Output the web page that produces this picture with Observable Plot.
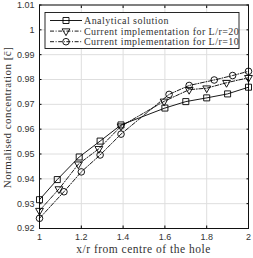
<!DOCTYPE html>
<html><head><meta charset="utf-8">
<script src="https://cdn.jsdelivr.net/npm/d3@7"></script>
<script src="https://cdn.jsdelivr.net/npm/@observablehq/plot@0.6"></script>
<style>body{margin:0;background:#fff}</style></head>
<body><div id="chart"></div>
<script>
const seriesNames = ["Analytical solution", "Current implementation for L/r=20", "Current implementation for L/r=10"];
const analyticalX = [1.0, 1.085, 1.19, 1.29, 1.39, 1.6, 1.7, 1.8, 1.9, 2.0];
const analyticalY = [0.9316, 0.9397, 0.9488, 0.9552, 0.9617, 0.9685, 0.9711, 0.9726, 0.9742, 0.9769];
const lr20X = [1.0, 1.093, 1.186, 1.284, 1.39, 1.596, 1.716, 1.80, 1.895, 2.0];
const lr20Y = [0.9272, 0.9359, 0.9459, 0.9521, 0.9612, 0.9712, 0.9759, 0.9765, 0.9787, 0.9807];
const lr10X = [1.0, 1.117, 1.2, 1.29, 1.39, 1.62, 1.716, 1.836, 1.924, 2.0];
const lr10Y = [0.9241, 0.9348, 0.9428, 0.9496, 0.9580, 0.9740, 0.9776, 0.9798, 0.9816, 0.9833];
const xTicks = [1, 1.2, 1.4, 1.6, 1.8, 2];
const xTickLabels = ["1", "1.2", "1.4", "1.6", "1.8", "2"];
const yTicks = [0.92, 0.93, 0.94, 0.95, 0.96, 0.97, 0.98, 0.99, 1, 1.01];
const yTickLabels = ["0.92", "0.93", "0.94", "0.95", "0.96", "0.97", "0.98", "0.99", "1", "1.01"];
const xTitle = "x/r from centre of the hole";
const yTitle = "Normalised concentration [c\u0304]";

const toRows = (xs, ys) => xs.map((x, i) => ({x, y: ys[i]}));
const A = toRows(analyticalX, analyticalY);
const B = toRows(lr20X, lr20Y);
const C = toRows(lr10X, lr10Y);

const serif = "Liberation Serif";
const sans = "Liberation Sans";
const dashB = "4,1.6,1,1.6";
const dashC = "4,1.6,1,1.6";
const gridColor = "#dedede";
const textColor = "#333";

const plot = Plot.plot({
  width: 253, height: 258,
  marginLeft: 39, marginRight: 5, marginTop: 4.5, marginBottom: 30,
  style: {background: "#fff", overflow: "visible"},
  x: {domain: [1, 2]},
  y: {domain: [0.92, 1.01]},
  marks: [
    Plot.gridX(xTicks, {stroke: gridColor, strokeOpacity: 1}),
    Plot.gridY(yTicks, {stroke: gridColor, strokeOpacity: 1}),
    Plot.axisX(xTicks, {anchor: "bottom", tickSize: 0, tickPadding: 5, fontSize: 9, fontFamily: sans, fill: textColor, tickFormat: d => xTickLabels[xTicks.indexOf(d)], label: null}),
    Plot.axisY(yTicks, {anchor: "left", tickSize: 0, tickPadding: 5, fontSize: 9, fontFamily: sans, fill: textColor, tickFormat: d => yTickLabels[yTicks.indexOf(d)], label: null}),
    Plot.axisX(xTicks, {anchor: "bottom", tickSize: -2.5, tickFormat: () => "", label: null}),
    Plot.axisX(xTicks, {anchor: "top", tickSize: -2.5, tickFormat: () => "", label: null}),
    Plot.axisY(yTicks, {anchor: "left", tickSize: -2.5, tickFormat: () => "", label: null}),
    Plot.axisY(yTicks, {anchor: "right", tickSize: -2.5, tickFormat: () => "", label: null}),
    Plot.frame({stroke: "#111"}),
    Plot.line(A, {x: "x", y: "y", stroke: "#000", strokeWidth: 0.9}),
    Plot.line(B, {x: "x", y: "y", stroke: "#000", strokeWidth: 0.9, strokeDasharray: dashB}),
    Plot.line(C, {x: "x", y: "y", stroke: "#000", strokeWidth: 0.9, strokeDasharray: dashC}),
    Plot.dot(A, {x: "x", y: "y", symbol: "square", r: 3.4, stroke: "#000", fill: "none", strokeWidth: 0.9}),
    Plot.dot(B, {x: "x", y: "y", symbol: "triangle", rotate: 180, r: 2.9, stroke: "#000", fill: "none", strokeWidth: 0.9}),
    Plot.dot(C, {x: "x", y: "y", symbol: "circle", r: 3.3, stroke: "#000", fill: "none", strokeWidth: 0.9})
  ]
});
document.getElementById("chart").appendChild(plot);

const svg = d3.select(plot);
const titleStyle = sel => sel.attr("font-family", serif).attr("font-size", 11.5)
  .attr("letter-spacing", "0.5px").attr("fill", textColor).attr("text-anchor", "middle");
// axis titles
svg.append("text").call(titleStyle)
  .attr("x", 143.5).attr("y", 249).attr("dy", "0.35em").text(xTitle);
svg.append("text").call(titleStyle).attr("font-size", 11).attr("letter-spacing", "0.45px")
  .attr("transform", "translate(7.5,117.5) rotate(-90)").attr("dy", "0.35em").text(yTitle);

// legend
const lg = svg.append("g");
const lx = 45, ly = 12.5, lw = 194, lh = 36;
lg.append("rect").attr("x", lx).attr("y", ly).attr("width", lw).attr("height", lh)
  .attr("fill", "#fff").attr("stroke", "#111").attr("stroke-width", 0.9);
const dashes = [null, dashB, dashC];
const symbols = [d3.symbolSquare, d3.symbolTriangle, d3.symbolCircle];
const sizes = [Math.PI * 3.4 * 3.4, Math.PI * 2.9 * 2.9, Math.PI * 3.3 * 3.3];
seriesNames.forEach((name, i) => {
  const y = ly + 8 + i * 10.6;
  const line = lg.append("line").attr("x1", lx + 5).attr("x2", lx + 37).attr("y1", y).attr("y2", y)
    .attr("stroke", "#000").attr("stroke-width", 0.9);
  if (dashes[i]) line.attr("stroke-dasharray", dashes[i]);
  lg.append("path").attr("d", d3.symbol(symbols[i], sizes[i])())
    .attr("transform", `translate(${lx + 21},${y}) rotate(${i === 1 ? 180 : 0})`)
    .attr("fill", "none").attr("stroke", "#000").attr("stroke-width", 0.9);
  lg.append("text").call(titleStyle).attr("text-anchor", "start").attr("font-size", 10).attr("letter-spacing", "0.45px")
    .attr("x", lx + 39).attr("y", y).attr("dy", "0.35em").text(name);
});
</script>
</body></html>
